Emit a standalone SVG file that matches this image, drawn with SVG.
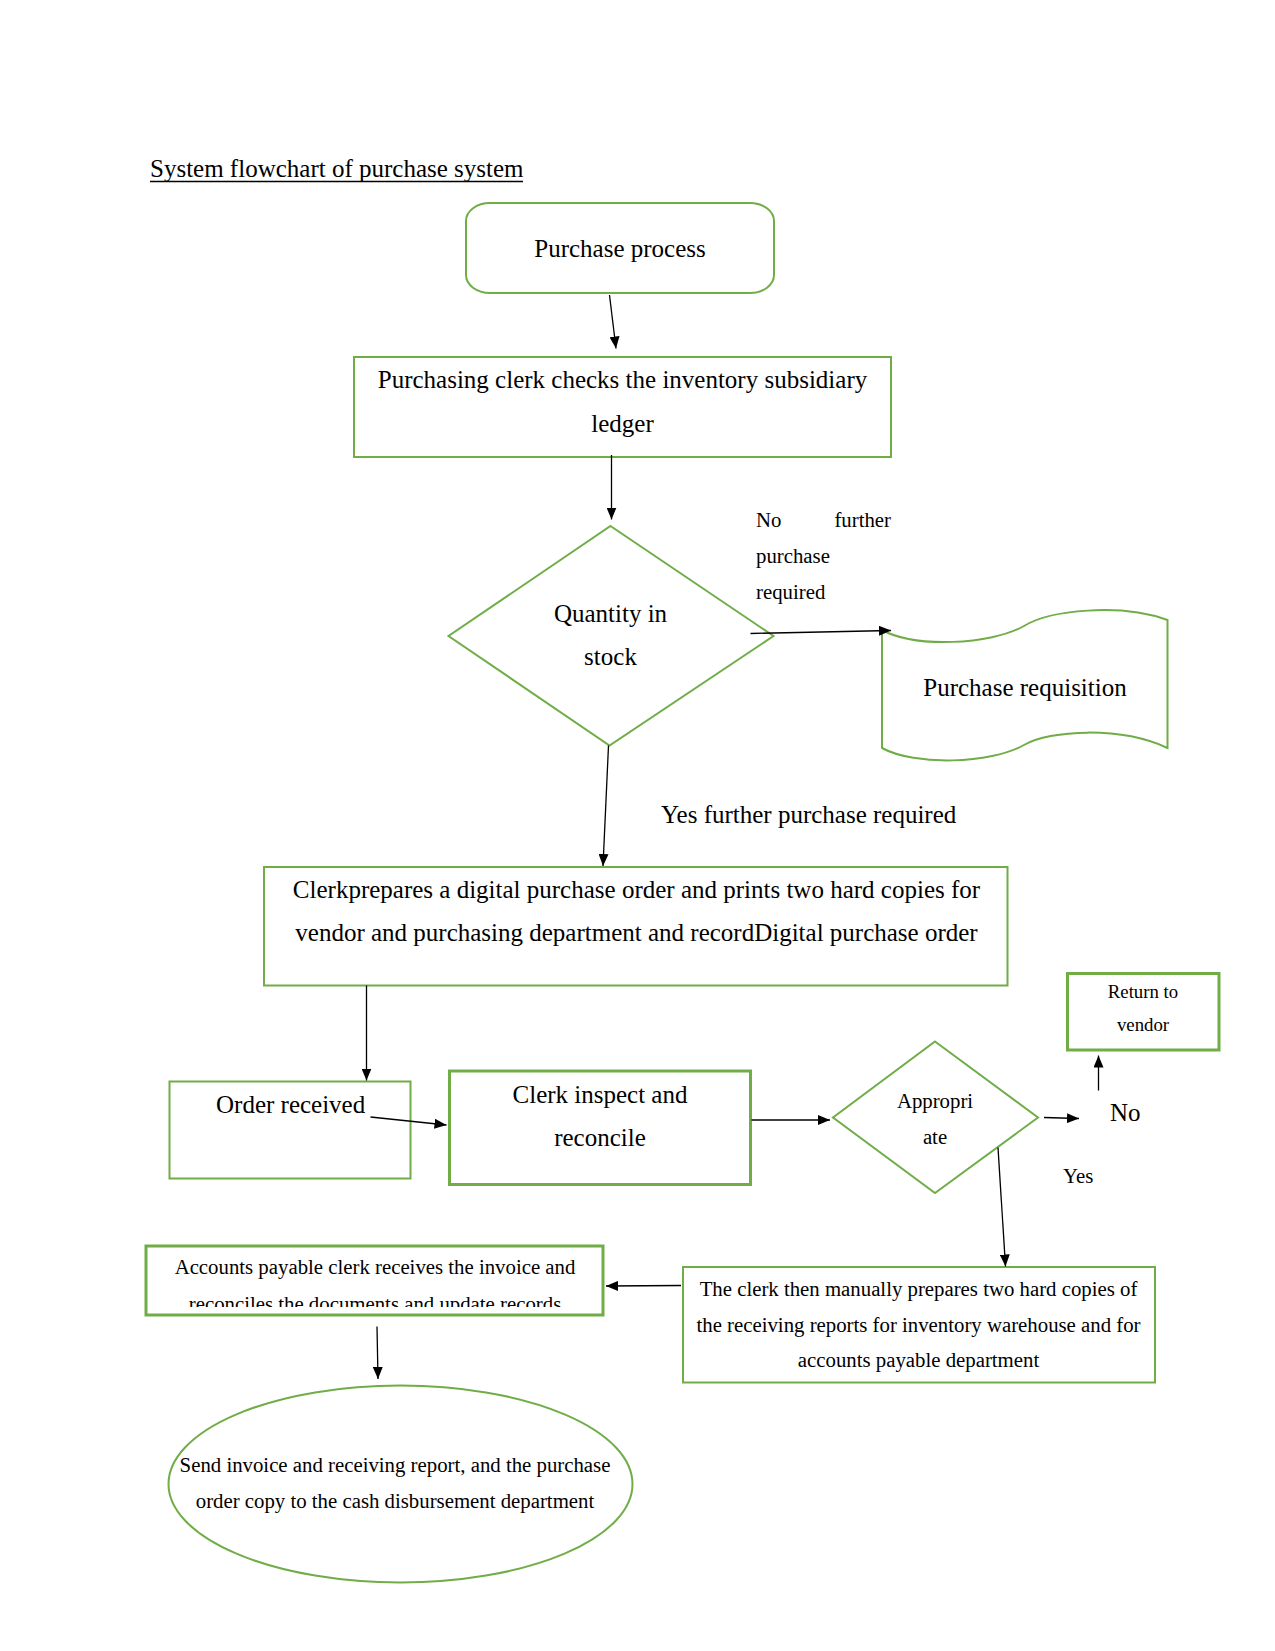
<svg xmlns="http://www.w3.org/2000/svg" width="1275" height="1651" viewBox="0 0 1275 1651">
<style>
text{font-family:"Liberation Serif","Times New Roman",serif;fill:#000}
.t25{font-size:25px}
.t21{font-size:20.8px}
.t19{font-size:18.8px}
.c{text-anchor:middle}
.g{fill:#fff;stroke:#70AD47;stroke-width:2}
.gt{fill:#fff;stroke:#70AD47;stroke-width:3}
.conn line{stroke:#000;stroke-width:1.3;marker-end:url(#ah)}
</style>
<defs>
<marker id="ah" viewBox="0 0 12 10" refX="12" refY="5" markerWidth="12" markerHeight="10" markerUnits="userSpaceOnUse" orient="auto"><path d="M0,0 L12,5 L0,10 z" fill="#000"/></marker>
<clipPath id="apclip"><rect x="147.5" y="1247" width="454" height="60"/></clipPath>
</defs>
<rect width="1275" height="1651" fill="#fff"/>
<g id="title">
<text class="t25" x="150" y="177">System flowchart of purchase system</text>
<line x1="150" y1="181.5" x2="523" y2="181.5" stroke="#000" stroke-width="1.3"/>
</g>
<g id="n-purchase-process">
<rect class="g" x="466" y="203" width="308" height="90" rx="24" ry="18"/>
<text class="t25 c" x="620" y="257">Purchase process</text>
</g>
<g id="n-check-ledger">
<rect class="g" x="354" y="357" width="537" height="100"/>
<text class="t25 c" x="622.5" y="388">Purchasing clerk checks the inventory subsidiary</text>
<text class="t25 c" x="622.5" y="431.5">ledger</text>
</g>
<g id="n-quantity">
<polygon class="g" points="610.5,526 773.5,636 609.5,745.5 448.5,636"/>
<text class="t25 c" x="610.5" y="622">Quantity in</text>
<text class="t25 c" x="610.5" y="665">stock</text>
</g>
<g id="n-requisition">
<path class="g" d="M882,630 C915,648 990,645 1024,626 C1050,610 1120,603 1167.5,620 L1167.5,748 C1120,726 1050,730 1024,745 C990,764 915,766 882,748 Z"/>
<text class="t25 c" x="1025" y="696">Purchase requisition</text>
</g>
<g id="lbl-no-further">
<text class="t21" x="756" y="527">No</text>
<text class="t21" x="891" y="527" text-anchor="end">further</text>
<text class="t21" x="756" y="563">purchase</text>
<text class="t21" x="756" y="598.5">required</text>
</g>
<g id="lbl-yes-further">
<text class="t25" x="661" y="823">Yes further purchase required</text>
</g>
<g id="n-prepare-po">
<rect class="g" x="264" y="867" width="743.5" height="118.5"/>
<text class="t25 c" x="636.5" y="897.5">Clerkprepares a digital purchase order and prints two hard copies for</text>
<text class="t25 c" x="636.5" y="941">vendor and purchasing department and recordDigital purchase order</text>
</g>
<g id="n-return-vendor">
<rect class="gt" x="1067.5" y="973.5" width="151.5" height="76.5"/>
<text class="t19 c" x="1143" y="998">Return to</text>
<text class="t19 c" x="1143" y="1030.5">vendor</text>
</g>
<g id="n-order-received">
<rect class="g" x="169.5" y="1081.5" width="241" height="97"/>
<text class="t25" x="216" y="1113">Order received</text>
</g>
<g id="n-inspect">
<rect class="gt" x="449.5" y="1071" width="301" height="113.5"/>
<text class="t25 c" x="600" y="1102.5">Clerk inspect and</text>
<text class="t25 c" x="600" y="1145.5">reconcile</text>
</g>
<g id="n-appropriate">
<polygon class="g" points="935,1041.5 1038,1117.5 935,1193 833,1117.5"/>
<text class="t21 c" x="935" y="1108">Appropri</text>
<text class="t21 c" x="935" y="1143.5">ate</text>
</g>
<g id="lbl-no">
<text class="t25" x="1110" y="1121">No</text>
</g>
<g id="lbl-yes">
<text class="t21" x="1063" y="1183">Yes</text>
</g>
<g id="n-receiving-report">
<rect class="g" x="683" y="1267" width="472" height="115.5"/>
<text class="t21 c" x="918.5" y="1295.5">The clerk then manually prepares two hard copies of</text>
<text class="t21 c" x="918.5" y="1331.5">the receiving reports for inventory warehouse and for</text>
<text class="t21 c" x="918.5" y="1367">accounts payable department</text>
</g>
<g id="n-accounts-payable">
<rect class="gt" x="146" y="1246" width="457" height="69"/>
<text class="t21 c" x="375" y="1273.5">Accounts payable clerk receives the invoice and</text>
<text class="t21 c" x="375" y="1311" clip-path="url(#apclip)">reconciles the documents and update records</text>
</g>
<g id="n-send-invoice">
<ellipse class="g" cx="400.5" cy="1484" rx="232" ry="98.5"/>
<text class="t21 c" x="395" y="1472">Send invoice and receiving report, and the purchase</text>
<text class="t21 c" x="395" y="1508">order copy to the cash disbursement department</text>
</g>
<g id="connectors" class="conn">
<line x1="609.5" y1="295" x2="616" y2="348.5"/>
<line x1="611.5" y1="455" x2="611.5" y2="519.5"/>
<line x1="750.5" y1="633.5" x2="891" y2="630.5"/>
<line x1="608.5" y1="745.5" x2="603" y2="866"/>
<line x1="366.5" y1="985.5" x2="366.5" y2="1080.5"/>
<line x1="370.5" y1="1117" x2="446.5" y2="1125"/>
<line x1="751.5" y1="1120" x2="830" y2="1120"/>
<line x1="1044" y1="1117.5" x2="1079" y2="1118.5"/>
<line x1="1098.5" y1="1090.5" x2="1098.5" y2="1055.5"/>
<line x1="998" y1="1147.5" x2="1005.5" y2="1266.5"/>
<line x1="681" y1="1285.5" x2="606" y2="1286"/>
<line x1="377" y1="1326.5" x2="378" y2="1379"/>
</g>
</svg>
